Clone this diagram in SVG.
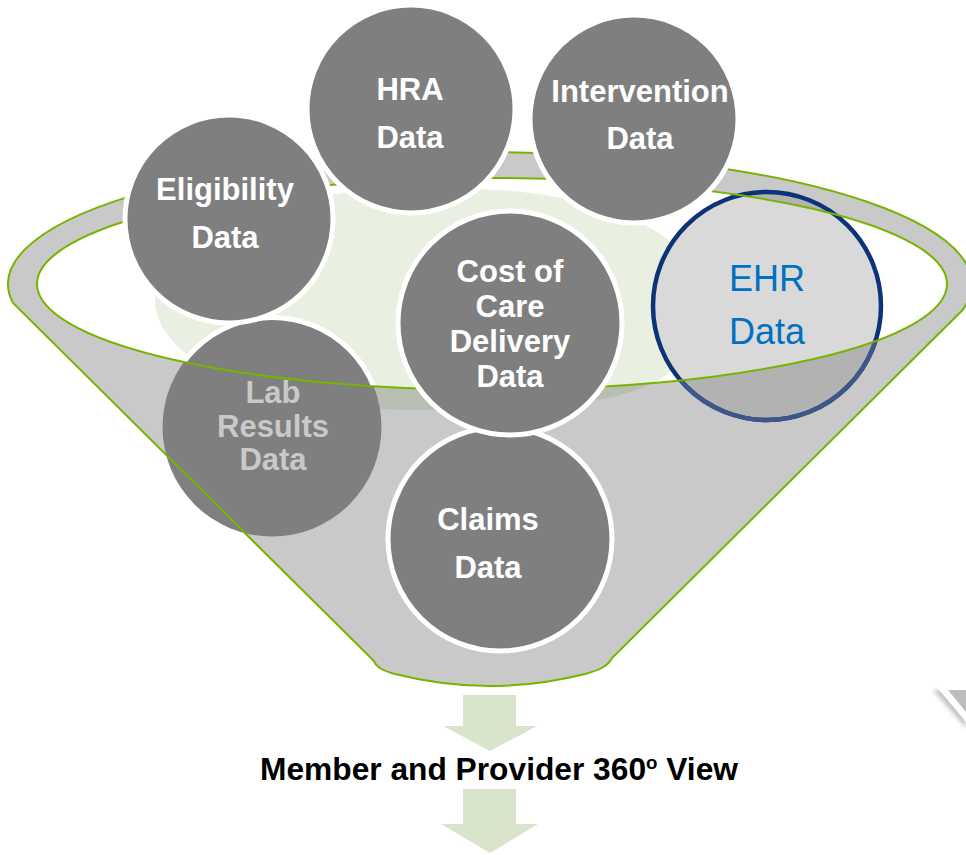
<svg xmlns="http://www.w3.org/2000/svg" width="966" height="855" viewBox="0 0 966 855">
<style>
.node circle.c{fill:#7f7f7f;stroke:#ffffff;stroke-width:5}
.lbl{font-family:"Liberation Sans",Arial,sans-serif;font-weight:bold;font-size:31px;fill:#ffffff;text-anchor:middle}
.green{fill:none;stroke:#76b400;stroke-width:2}
.arrow{fill:#d8e5cc}
</style>
<defs>
<clipPath id="innerClip"><ellipse cx="492" cy="284" rx="455" ry="106"/></clipPath>
<clipPath id="belowInner"><path d="M0 284 H37 A455 106 0 0 0 947 284 H966 V855 H0 Z"/></clipPath>
<clipPath id="outsideInner"><path clip-rule="evenodd" d="M0 0 H966 V855 H0 Z M37 284 A455 106 0 1 0 947 284 A455 106 0 1 0 37 284 Z"/></clipPath>
<filter id="blur" x="-50%" y="-50%" width="200%" height="200%"><feGaussianBlur stdDeviation="2"/></filter>
</defs>

<g id="funnel">
<path id="funnel-body" d="M13 303 A482 132 0 1 1 962.6 310 L612 658 C608 666 600 670 585 674 Q490 698 395 674 C380 670 376 666 373 660 Z" fill="#c9c9c9"/>
<path d="M155 300 C155 240 250 190 430 188 C600 186 700 230 700 300 C700 390 630 410 430 410 C260 412 155 360 155 300 Z" fill="#b9beb3"/>
<ellipse cx="492" cy="284" rx="455" ry="106" fill="#ffffff"/>
<path clip-path="url(#innerClip)" d="M155 300 C155 240 250 190 430 188 C600 186 700 230 700 300 C700 390 630 410 430 410 C260 412 155 360 155 300 Z" fill="#e9f0e2"/>
</g>

<g id="node-lab" class="node">
<circle cx="272" cy="427" r="109.5" fill="#7f7f7f"/>
<circle cx="272" cy="427" r="109.5" fill="none" stroke="#ffffff" stroke-width="5" clip-path="url(#innerClip)"/>
<text class="lbl" x="273" y="403" style="fill:#c9c9c9">Lab</text>
<text class="lbl" x="273" y="437" style="fill:#c9c9c9">Results</text>
<text class="lbl" x="273" y="470" style="fill:#c9c9c9">Data</text>
</g>

<g id="node-ehr" class="node">
<circle cx="767" cy="306" r="114" fill="#d9d9d9"/>
<circle cx="767" cy="306" r="114" fill="#b2b2b2" clip-path="url(#outsideInner)"/>
<circle cx="767" cy="306" r="114" fill="none" stroke="#0b3378" stroke-width="4.5"/>
<circle cx="767" cy="306" r="114" fill="none" stroke="#3d5786" stroke-width="4.5" clip-path="url(#belowInner)"/>
<text x="767" y="291" font-family="Liberation Sans, Arial, sans-serif" font-size="36" fill="#0070c0" text-anchor="middle">EHR</text>
<text x="767" y="344" font-family="Liberation Sans, Arial, sans-serif" font-size="36" fill="#0070c0" text-anchor="middle">Data</text>
</g>

<g id="connectors">
<path class="green" d="M13 303 A482 132 0 1 1 962.6 310 L612 658 C608 666 600 670 585 674 Q490 698 395 674 C380 670 376 666 373 660 Z"/>
<ellipse class="green" cx="492" cy="284" rx="455" ry="106"/>
<polygon class="arrow" points="463,695 516,695 516,726 537,726 490,751 443,726 463,726"/>
<polygon class="arrow" points="463,789 516,789 516,824 538,824 490,853 441,824 463,824"/>
</g>

<g id="node-eligibility" class="node">
<circle class="c" cx="229" cy="219" r="104"/>
<text class="lbl" x="225" y="200">Eligibility</text>
<text class="lbl" x="225" y="248">Data</text>
</g>

<g id="node-hra" class="node">
<circle class="c" cx="411" cy="109" r="104"/>
<text class="lbl" x="410" y="100">HRA</text>
<text class="lbl" x="410" y="148">Data</text>
</g>

<g id="node-intervention" class="node">
<circle class="c" cx="634" cy="119" r="104"/>
<text class="lbl" x="640" y="102">Intervention</text>
<text class="lbl" x="640" y="149">Data</text>
</g>

<g id="node-claims" class="node">
<circle class="c" cx="500" cy="539" r="112"/>
<text class="lbl" x="488" y="530">Claims</text>
<text class="lbl" x="488" y="578">Data</text>
</g>

<g id="node-cost" class="node">
<circle class="c" cx="510" cy="323" r="112"/>
<text class="lbl" x="510" y="282">Cost of</text>
<text class="lbl" x="510" y="317">Care</text>
<text class="lbl" x="510" y="352">Delivery</text>
<text class="lbl" x="510" y="387">Data</text>
</g>

<g id="title">
<text x="260" y="780" font-family="Liberation Sans, Arial, sans-serif" font-weight="bold" font-size="30.5" fill="#000000" textLength="478" lengthAdjust="spacingAndGlyphs">Member and Provider 360<tspan font-size="18" dy="-11">o</tspan><tspan dy="11"> View</tspan></text>
</g>

<g id="corner-fragment">
<polygon points="933,690 966,690 966,728" fill="#9a9a9a" filter="url(#blur)" opacity="0.6"/>
<polygon points="935,685 966,685 966,722" fill="#ffffff"/>
<polygon points="948,690 966,690 966,712" fill="#bdbdbd"/>
</g>
</svg>
